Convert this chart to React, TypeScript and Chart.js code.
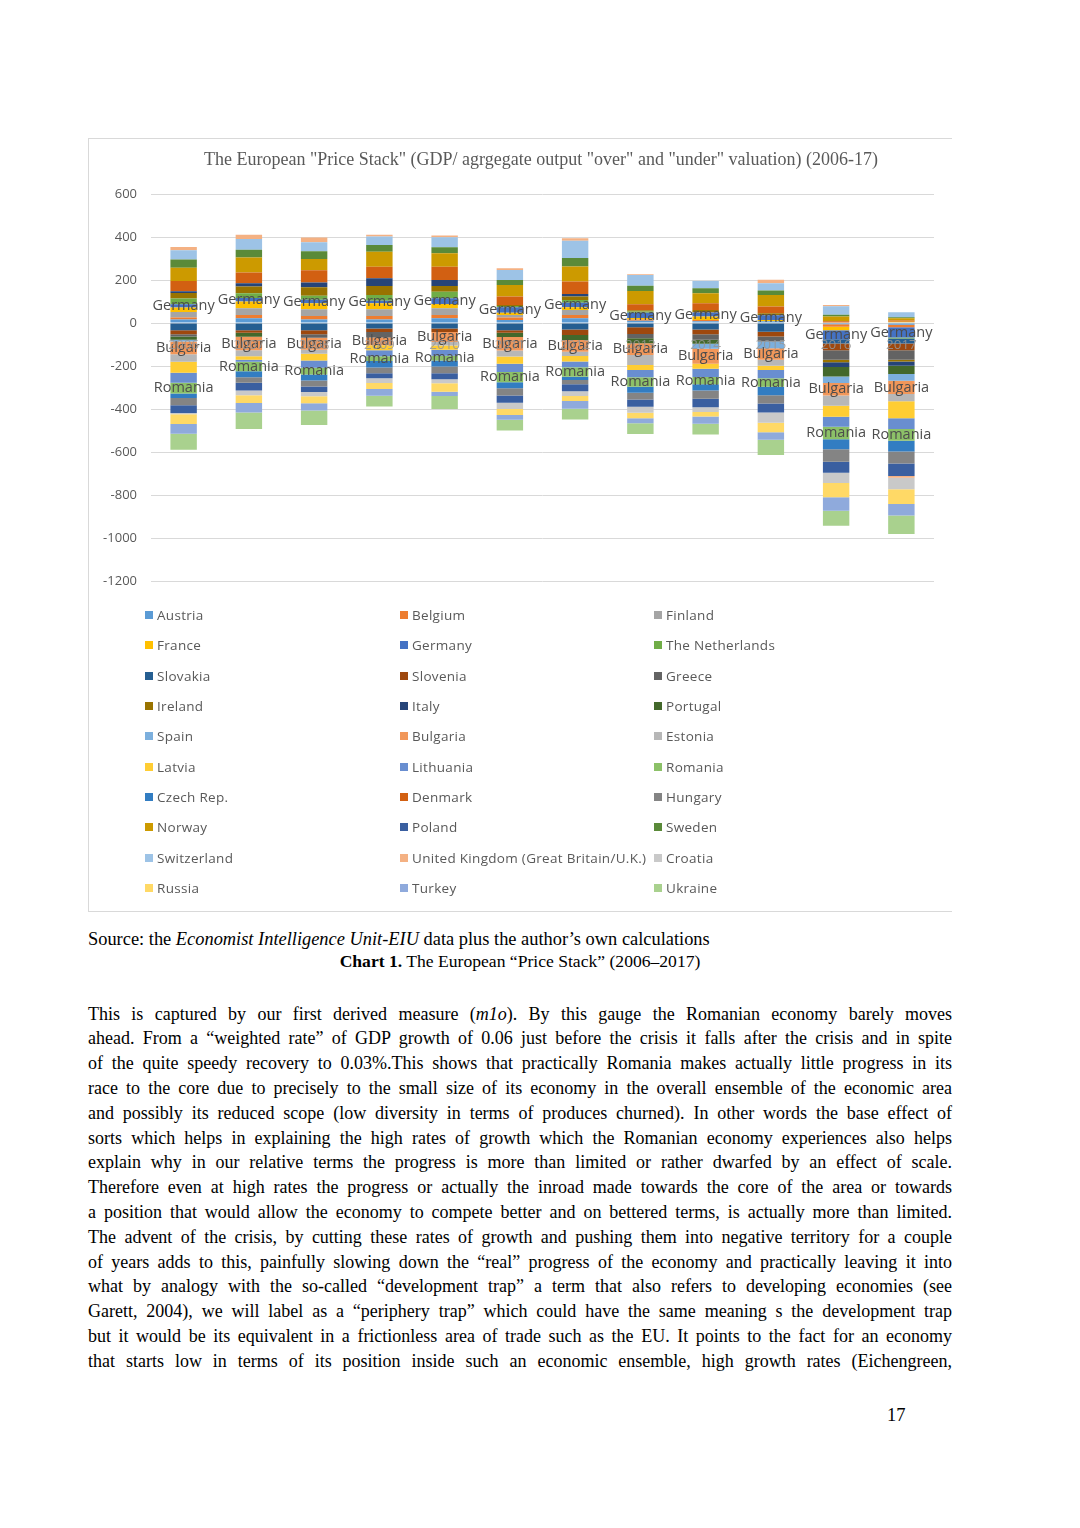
import React, { useEffect, useRef } from 'react';
import { Chart, registerables } from 'chart.js';

Chart.register(...registerables);

// ---------- DATA ----------
const YEARS = ['2006', '2007', '2008', '2009', '2010', '2011', '2012', '2013', '2014', '2015', '2016', '2017'];

const CHART_TITLE = 'The European "Price Stack" (GDP/ agrgegate output "over" and "under" valuation) (2006-17)';

const Y_MIN = -1200;
const Y_MAX = 600;
const Y_STEP = 200;

const SERIES_NAMES = [
  'Austria', 'Belgium', 'Finland', 'France', 'Germany', 'The Netherlands',
  'Slovakia', 'Slovenia', 'Greece', 'Ireland', 'Italy', 'Portugal',
  'Spain', 'Bulgaria', 'Estonia', 'Latvia', 'Lithuania', 'Romania',
  'Czech Rep.', 'Denmark', 'Hungary', 'Norway', 'Poland', 'Sweden',
  'Switzerland', 'United Kingdom (Great Britain/U.K.)', 'Croatia', 'Russia', 'Turkey', 'Ukraine',
];

const SERIES_COLORS = [
  '#5B9BD5', '#ED7D31', '#A5A5A5', '#FFC000', '#4472C4', '#70AD47',
  '#255E91', '#9E480E', '#636363', '#997300', '#264478', '#43682B',
  '#7CAFDD', '#F1975A', '#B7B7B7', '#FFCD33', '#698ED0', '#8CC168',
  '#327DC2', '#D26012', '#848484', '#CC9A00', '#3A5FA0', '#5A8A39',
  '#9DC3E6', '#F4B183', '#C9C9C9', '#FFD966', '#8FAADC', '#A9D18E',
];

// series values, 2006 .. 2017
const AUSTRIA = [17, 22, 17, 17, 22, 14, 22, 11, 8, 8, -5, -8];
const BELGIUM = [9, 16, 16, 16, 16, 12, 16, 6, 6, 0, -12, -12];
const FINLAND = [26, 31, 31, 31, 31, 11, 23, 0, 0, 0, 3, 4];
const FRANCE = [20, 31, 28, 28, 20, 11, 12, 6, 16, 6, -16, 2];
const GERMANY = [16, 16, 16, 12, 26, 25, 22, 25, 19, 22, -42, -47];
const NETHERLANDS = [26, 23, 19, 26, 31, 6, 12, 6, 0, 0, 0, -5];
const SLOVAKIA = [-33, -33, -33, -25, -25, -33, -30, -20, -30, -40, -20, -23];
const SLOVENIA = [-19, -12, -19, -16, -16, -12, -26, -31, -22, -23, -31, -31];
const GREECE = [-10, 0, -16, -26, 0, 0, 0, -20, -25, -23, -44, -45];
const IRELAND = [26, 31, 40, 42, 26, 5, 16, 6, 12, 10, -12, -8];
const ITALY = [8, 15, 22, 36, 28, 0, 12, 0, 0, 0, -22, -20];
const PORTUGAL = [-16, -19, 0, 0, 0, -20, -23, -23, -19, 0, -44, -38];
const SPAIN = [-8, 0, 0, 0, 0, 0, 0, 0, -23, -31, -31, -31];
const BULGARIA = [-59, -62, -56, -36, -47, -62, -54, -54, -70, -54, -58, -62];
const ESTONIA = [-35, -28, -19, 0, -16, -28, -20, -47, 0, -28, -47, -34];
const LATVIA = [-51, -16, -31, -23, -20, -34, -26, -23, -23, -19, -51, -78];
const LITHUANIA = [-47, -10, -34, -28, -28, -39, -26, -34, -39, -39, -47, -51];
const ROMANIA = [-50, -44, -31, -22, -22, -47, -44, -44, -34, -39, -58, -54];
const CZECH = [-20, -28, -28, -31, -28, -28, -16, -28, -28, -39, -47, -50];
const DENMARK = [48, 50, 56, 54, 62, 39, 58, 28, 31, 31, 5, 6];
const HUNGARY = [-34, -26, -28, -26, -31, -34, -19, -31, -39, -39, -58, -56];
const NORWAY = [61, 70, 53, 70, 62, 54, 70, 61, 47, 54, 23, 10];
const POLAND = [-36, -36, -26, -23, -28, -34, -33, -34, -39, -42, -51, -58];
const SWEDEN = [39, 36, 36, 31, 28, 23, 39, 25, 23, 20, 8, 5];
const SWITZERLAND = [43, 50, 42, 39, 47, 47, 81, 50, 34, 34, 39, 23];
const UK = [15, 20, 22, 8, 8, 8, 11, 3, 0, 16, 6, -8];
const CROATIA = [-6, -22, -19, -23, -19, -28, -22, -28, -23, -47, -47, -54];
const RUSSIA = [-45, -36, -33, -28, -39, -28, -23, -26, -20, -44, -67, -68];
const TURKEY = [-45, -44, -34, -31, -20, -22, -36, -23, -34, -36, -62, -54];
const UKRAINE = [-75, -76, -67, -50, -61, -51, -50, -50, -50, -70, -70, -85];

const SERIES_VALUES = [
  AUSTRIA, BELGIUM, FINLAND, FRANCE, GERMANY, NETHERLANDS,
  SLOVAKIA, SLOVENIA, GREECE, IRELAND, ITALY, PORTUGAL,
  SPAIN, BULGARIA, ESTONIA, LATVIA, LITHUANIA, ROMANIA,
  CZECH, DENMARK, HUNGARY, NORWAY, POLAND, SWEDEN,
  SWITZERLAND, UK, CROATIA, RUSSIA, TURKEY, UKRAINE,
];

// series whose name is shown as a data label on each bar
const LABELLED_SERIES = ['Germany', 'Bulgaria', 'Romania'];

const SOURCE_PREFIX = 'Source: the ';
const SOURCE_ITALIC = 'Economist Intelligence Unit-EIU';
const SOURCE_SUFFIX = ' data plus the author\u2019s own calculations';
const CAPTION_BOLD = 'Chart 1.';
const CAPTION_TEXT = ' The European \u201cPrice Stack\u201d (2006\u20132017)';

const PARAGRAPH_LINES = [
  'ahead. From a \u201cweighted rate\u201d of GDP growth of 0.06 just before the crisis it falls after the crisis and in spite',
  'of the quite speedy recovery to 0.03%.This shows that practically Romania makes actually little progress in its',
  'race to the core due to precisely to the small size of its economy in the overall ensemble of the economic area',
  'and possibly its reduced scope (low diversity in terms of produces churned). In other words the base effect of',
  'sorts which helps in explaining the high rates of growth which the Romanian economy experiences also helps',
  'explain why in our relative terms the progress is more than limited or rather dwarfed by an effect of scale.',
  'Therefore even at high rates the progress or actually the inroad made towards the core of the area or towards',
  'a position that would allow the economy to compete better and on bettered terms, is actually more than limited.',
  'The advent of the crisis, by cutting these rates of growth and pushing them into negative territory for a couple',
  'of years adds to this, painfully slowing down the \u201creal\u201d progress of the economy and practically leaving it into',
  'what by analogy with the so-called \u201cdevelopment trap\u201d a term that also refers to developing economies (see',
  'Garett, 2004), we will label as a \u201cperiphery trap\u201d which could have the same meaning s the development trap',
  'but it would be its equivalent in a frictionless area of trade such as the EU. It points to the fact for an economy',
  'that starts low in terms of its position inside such an economic ensemble, high growth rates (Eichengreen,',
];
const PAGE_NUMBER = '17';

// ---------- PLUGIN: series-name data labels ----------
const seriesLabelPlugin = {
  id: 'seriesLabels',
  afterDatasetsDraw(chart: any) {
    const ctx = chart.ctx;
    ctx.save();
    ctx.font = '14.5px "Open Sans"';
    ctx.fillStyle = '#4d4d4d';
    ctx.textAlign = 'center';
    ctx.textBaseline = 'middle';
    LABELLED_SERIES.forEach((name) => {
      const di = SERIES_NAMES.indexOf(name);
      const meta = chart.getDatasetMeta(di);
      meta.data.forEach((el: any) => {
        const p = el.getProps(['x', 'y', 'base'], true);
        ctx.fillText(name, p.x, (p.y + p.base) / 2);
      });
    });
    ctx.restore();
  },
};

function PriceStackChart() {
  const ref = useRef<HTMLCanvasElement | null>(null);
  useEffect(() => {
    if (!ref.current) return;
    const chart = new Chart(ref.current, {
      type: 'bar',
      data: {
        labels: YEARS,
        datasets: SERIES_NAMES.map((name, i) => ({
          label: name,
          data: SERIES_VALUES[i],
          backgroundColor: SERIES_COLORS[i],
          borderWidth: 0,
          barPercentage: 0.405,
          categoryPercentage: 1,
        })),
      },
      options: {
        responsive: false,
        animation: false,
        layout: { padding: { left: 0, right: 0, top: 0, bottom: 9 } },
        plugins: {
          legend: { display: false },
          tooltip: { enabled: false },
          title: {
            display: true,
            text: CHART_TITLE,
            color: '#595959',
            font: { family: '"Liberation Serif", "Times New Roman", serif', size: 18, weight: 'normal' },
            padding: { top: 10, bottom: 23.4 },
          },
        },
        scales: {
          x: {
            type: 'category',
            stacked: true,
            position: { y: 0 } as any,
            grid: { display: false, drawTicks: false },
            border: { display: false },
            ticks: {
              color: 'rgba(150,150,150,0.85)',
              font: { family: '"Open Sans"', size: 13.5 },
              padding: 14,
              z: 1,
              maxRotation: 0,
            },
          },
          y: {
            stacked: true,
            min: Y_MIN,
            max: Y_MAX,
            ticks: {
              stepSize: Y_STEP,
              color: '#595959',
              font: { family: '"Open Sans"', size: 13 },
              padding: 14,
              callback: (v: any) => String(v),
            },
            grid: { color: '#d9d9d9', lineWidth: 1, drawTicks: false },
            border: { display: false },
            afterFit: (scale: any) => {
              scale.width = 62;
            },
          },
          yRight: {
            position: 'right',
            display: true,
            min: Y_MIN,
            max: Y_MAX,
            grid: { display: false, drawTicks: false },
            border: { display: false },
            ticks: { display: false },
            afterFit: (scale: any) => {
              scale.width = 59;
            },
          },
        },
      },
      plugins: [seriesLabelPlugin],
    } as any);
    return () => chart.destroy();
  }, []);
  return <canvas ref={ref} width={904} height={464} style={{ display: 'block', position: 'absolute', left: 0, top: 0 }} />;
}

function Legend() {
  return (
    <div
      style={{
        position: 'absolute',
        left: 56,
        top: 461,
        display: 'grid',
        gridTemplateColumns: '255px 254px 220px',
        gridAutoRows: '30.33px',
      }}
    >
      {SERIES_NAMES.map((name, i) => (
        <div key={name} style={{ display: 'flex', alignItems: 'center', whiteSpace: 'nowrap' }}>
          <span style={{ display: 'inline-block', width: 8, height: 8, background: SERIES_COLORS[i], marginRight: 4 }} />
          <span style={{ fontFamily: '"Open Sans", sans-serif', fontSize: 13.5, letterSpacing: 0.3, color: '#595959' }}>{name}</span>
        </div>
      ))}
    </div>
  );
}

export default function App() {
  const serif = '"Liberation Serif", "Times New Roman", serif';
  const lineStyle: React.CSSProperties = {
    width: 864,
    height: 24.8,
    lineHeight: '24.8px',
    textAlign: 'justify',
    textAlignLast: 'justify' as any,
    whiteSpace: 'nowrap',
  };
  return (
    <div style={{ position: 'relative', width: 1064, height: 1440, fontFamily: serif, color: '#000' }}>
      <div
        style={{
          position: 'absolute',
          left: 80,
          top: 130,
          width: 864,
          height: 774,
          boxSizing: 'border-box',
          borderTop: '1px solid #d9d9d9',
          borderLeft: '1px solid #d9d9d9',
          borderBottom: '1px solid #d9d9d9',
          background: 'transparent',
        }}
      >
        <PriceStackChart />
        <Legend />
      </div>

      <div style={{ position: 'absolute', left: 80, top: 920, fontSize: 18.4, lineHeight: '22px', whiteSpace: 'nowrap' }}>
        {SOURCE_PREFIX}
        <i>{SOURCE_ITALIC}</i>
        {SOURCE_SUFFIX}
      </div>
      <div style={{ position: 'absolute', left: 80, top: 942, width: 864, textAlign: 'center', fontSize: 17.6, lineHeight: '22px' }}>
        <b>{CAPTION_BOLD}</b>
        {CAPTION_TEXT}
      </div>

      <div style={{ position: 'absolute', left: 80, top: 993.6, fontSize: 18 }}>
        <div style={lineStyle}>
          This is captured by our first derived measure (<i>m1o</i>). By this gauge the Romanian economy barely moves
        </div>
        {PARAGRAPH_LINES.map((t, i) => (
          <div key={i} style={lineStyle}>
            {t}
          </div>
        ))}
      </div>

      <div style={{ position: 'absolute', left: 879, top: 1396, fontSize: 18.5, lineHeight: '22px' }}>{PAGE_NUMBER}</div>
    </div>
  );
}
